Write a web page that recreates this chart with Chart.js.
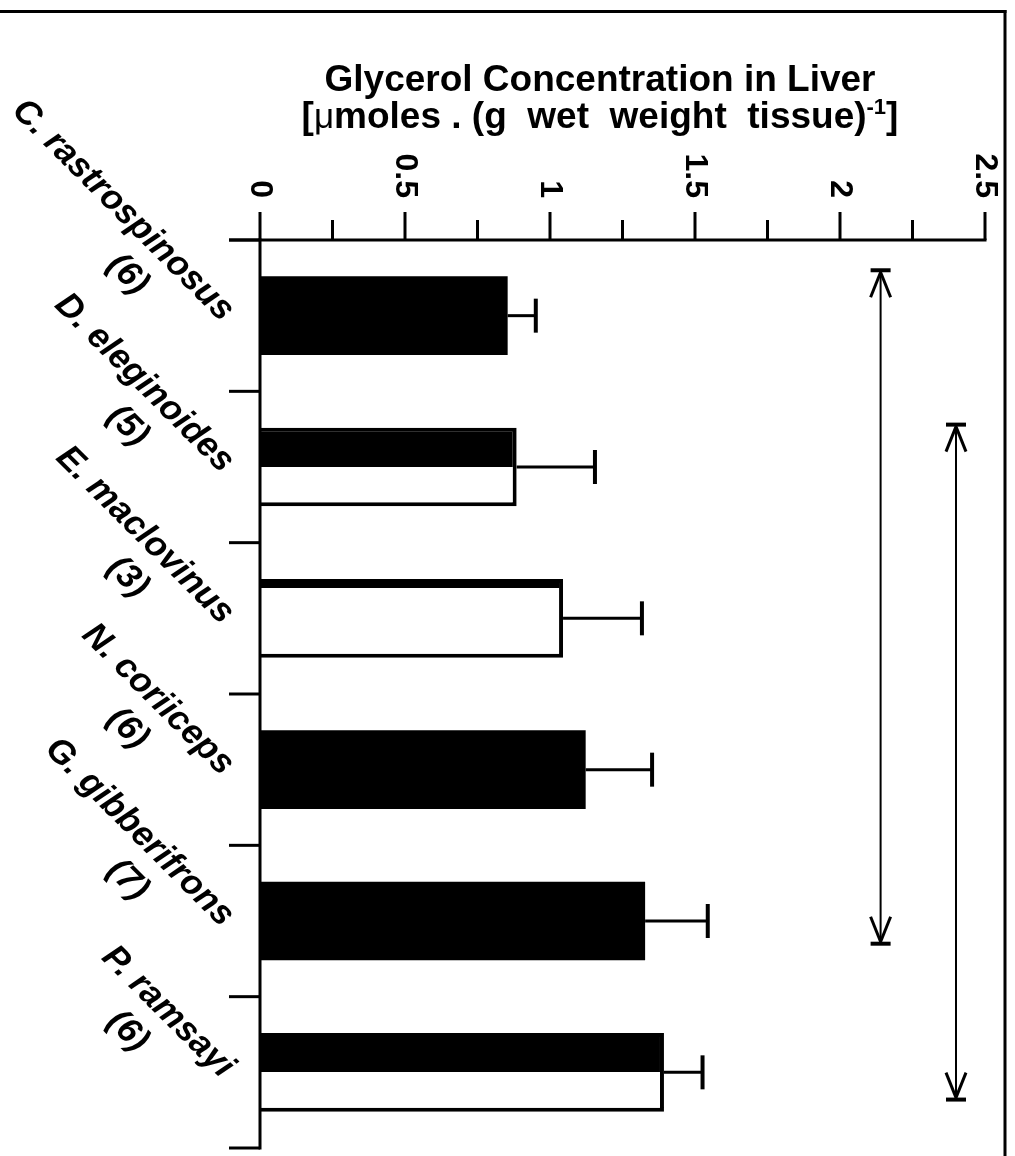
<!DOCTYPE html>
<html>
<head>
<meta charset="utf-8">
<title>Glycerol Concentration in Liver</title>
<script src="https://cdn.jsdelivr.net/npm/chart.js@4.4.0/dist/chart.umd.min.js"></script>
<style>
    html, body { margin: 0; padding: 0; background: #fff; }
    #chart { display: block; }
</style>
</head>
<body>
<canvas id="chart" width="1015" height="1156"></canvas>
<script>
// Datos
const species = ['C. rastrospinosus', 'D. eleginoides', 'E. maclovinus', 'N. coriiceps', 'G. gibberifrons', 'P. ramsayi'];
const sampleSizes = ['(6)', '(5)', '(3)', '(6)', '(7)', '(6)'];
const glycerolMean = [0.854, 0.885, 1.045, 1.123, 1.328, 1.393];
const glycerolSem = [0.097, 0.27, 0.272, 0.229, 0.216, 0.133];
const tickValues = [0, 0.5, 1, 1.5, 2, 2.5];
const tickLabels = ['0', '0.5', '1', '1.5', '2', '2.5'];

// Flechas de comparación (x en unidades del eje, extremos en índice de categoría)
const arrowX = [2.14, 2.40];
const arrowFrom = [-0.30, 0.72];
const arrowTo = [4.15, 5.18];

// Relleno de cada barra
const barFill = ['solid', 'split', 'band', 'solid', 'solid', 'split'];

const CAT_PCT = 0.8;
const BAR_PCT = 0.65;
const FONT = "'Liberation Sans', Arial, sans-serif";

// Gradiente con corte duro para las barras mitad negras / mitad blancas
function barBackground(context) {
    const i = context.dataIndex;
    const kind = barFill[i];
    if (kind === 'solid') return '#000';
    const chart = context.chart;
    const yScale = chart.scales.y;
    if (!yScale || !chart.chartArea) return '#fff';
    const yc = yScale.getPixelForValue(i);
    const band = yScale.getPixelForValue(1) - yScale.getPixelForValue(0);
    const half = band * CAT_PCT * BAR_PCT / 2;
    const cut = kind === 'split' ? 0.5 : 0.12;
    const g = chart.ctx.createLinearGradient(0, yc - half, 0, yc + half);
    g.addColorStop(0, '#000');
    g.addColorStop(cut, '#000');
    g.addColorStop(cut, '#fff');
    g.addColorStop(1, '#fff');
    return g;
}

function drawLine(ctx, x1, y1, x2, y2, w) {
    ctx.lineWidth = w;
    ctx.beginPath();
    ctx.moveTo(x1, y1);
    ctx.lineTo(x2, y2);
    ctx.stroke();
}

const extras = {
    id: 'extras',
    afterDatasetsDraw(chart) {
        const ctx = chart.ctx;
        const xs = chart.scales.x;
        const ys = chart.scales.y;
        const area = chart.chartArea;
        ctx.save();
        ctx.strokeStyle = '#000';
        ctx.fillStyle = '#000';

        // Barras de error (solo hacia la derecha)
        chart.getDatasetMeta(0).data.forEach((bar, i) => {
            const xe = xs.getPixelForValue(glycerolMean[i] + glycerolSem[i]);
            drawLine(ctx, bar.x, bar.y, xe, bar.y, 3);
            drawLine(ctx, xe, bar.y - 17, xe, bar.y + 17, 4);
        });

        // Ejes
        drawLine(ctx, area.left - 31, area.top, area.right + 1.5, area.top, 3);
        drawLine(ctx, area.left, area.top - 1.5, area.left, area.bottom + 1.5, 3);
        for (let k = 0; k <= species.length; k++) {
            const py = ys.getPixelForValue(k - 0.5);
            drawLine(ctx, area.left - 31, py, area.left, py, 3);
        }
        tickValues.forEach((v, i) => {
            const px = xs.getPixelForValue(v);
            drawLine(ctx, px, area.top, px, area.top - 28, 3);
            if (i < tickValues.length - 1) {
                const pm = xs.getPixelForValue((v + tickValues[i + 1]) / 2);
                drawLine(ctx, pm, area.top, pm, area.top - 20, 3);
            }
            ctx.save();
            ctx.translate(px, area.top - 42);
            ctx.rotate(Math.PI / 2);
            ctx.font = 'bold 32px ' + FONT;
            ctx.textAlign = 'right';
            ctx.textBaseline = 'middle';
            ctx.fillText(tickLabels[i], 0, 0);
            ctx.restore();
        });

        // Etiquetas de especies a 45 grados
        species.forEach((name, i) => {
            const yc = ys.getPixelForValue(i);
            ctx.save();
            ctx.translate(area.left - 32, yc);
            ctx.rotate(Math.PI / 4);
            ctx.font = 'italic bold 35px ' + FONT;
            ctx.textBaseline = 'middle';
            ctx.textAlign = 'right';
            ctx.fillText(name, 0, 0);
            ctx.textAlign = 'center';
            ctx.fillText(sampleSizes[i], -100, 42);
            ctx.restore();
        });

        // Flechas dobles
        arrowX.forEach((v, j) => {
            const px = xs.getPixelForValue(v);
            const y1 = ys.getPixelForValue(arrowFrom[j]);
            const y2 = ys.getPixelForValue(arrowTo[j]);
            drawLine(ctx, px, y1, px, y2, 2);
            [[y1, 1], [y2, -1]].forEach(([ye, dir]) => {
                drawLine(ctx, px - 10, ye, px + 10, ye, 4);
                drawLine(ctx, px, ye + dir * 2, px - 10, ye + dir * 27, 3);
                drawLine(ctx, px, ye + dir * 2, px + 10, ye + dir * 27, 3);
            });
        });

        // Título
        const cx = 600;
        ctx.textBaseline = 'alphabetic';
        ctx.textAlign = 'center';
        ctx.font = 'bold 37px ' + FONT;
        ctx.fillText('Glycerol Concentration in Liver', cx, 91);

        const parts = [
            ['[', 'bold 37px ' + FONT, 0],
            ['\u03bc', '35px ' + FONT, 0],
            ['moles . (g  wet  weight  tissue)', 'bold 37px ' + FONT, 0],
            ['-1', 'bold 22px ' + FONT, -14],
            [']', 'bold 37px ' + FONT, 0]
        ];
        let total = 0;
        parts.forEach(p => { ctx.font = p[1]; total += ctx.measureText(p[0]).width; });
        let tx = cx - total / 2;
        ctx.textAlign = 'left';
        parts.forEach(p => {
            ctx.font = p[1];
            ctx.fillText(p[0], tx, 128 + p[2]);
            tx += ctx.measureText(p[0]).width;
        });

        // Marco
        drawLine(ctx, 0, 11.5, 1006.5, 11.5, 3);
        drawLine(ctx, 1005, 10, 1005, 1156, 3);

        ctx.restore();
    }
};

new Chart(document.getElementById('chart'), {
    type: 'bar',
    data: {
        labels: species,
        datasets: [{
            data: glycerolMean,
            backgroundColor: barBackground,
            borderColor: '#000',
            borderWidth: (c) => barFill[c.dataIndex] === 'solid' ? 0 : 4,
            categoryPercentage: CAT_PCT,
            barPercentage: BAR_PCT
        }]
    },
    options: {
        indexAxis: 'y',
        responsive: false,
        animation: false,
        layout: { padding: { left: 260, top: 240, right: 30, bottom: 8 } },
        plugins: {
            legend: { display: false },
            tooltip: { enabled: false },
            title: { display: false }
        },
        scales: {
            x: { display: false, min: 0, max: 2.5 },
            y: { display: false }
        }
    },
    plugins: [extras]
});
</script>
</body>
</html>
